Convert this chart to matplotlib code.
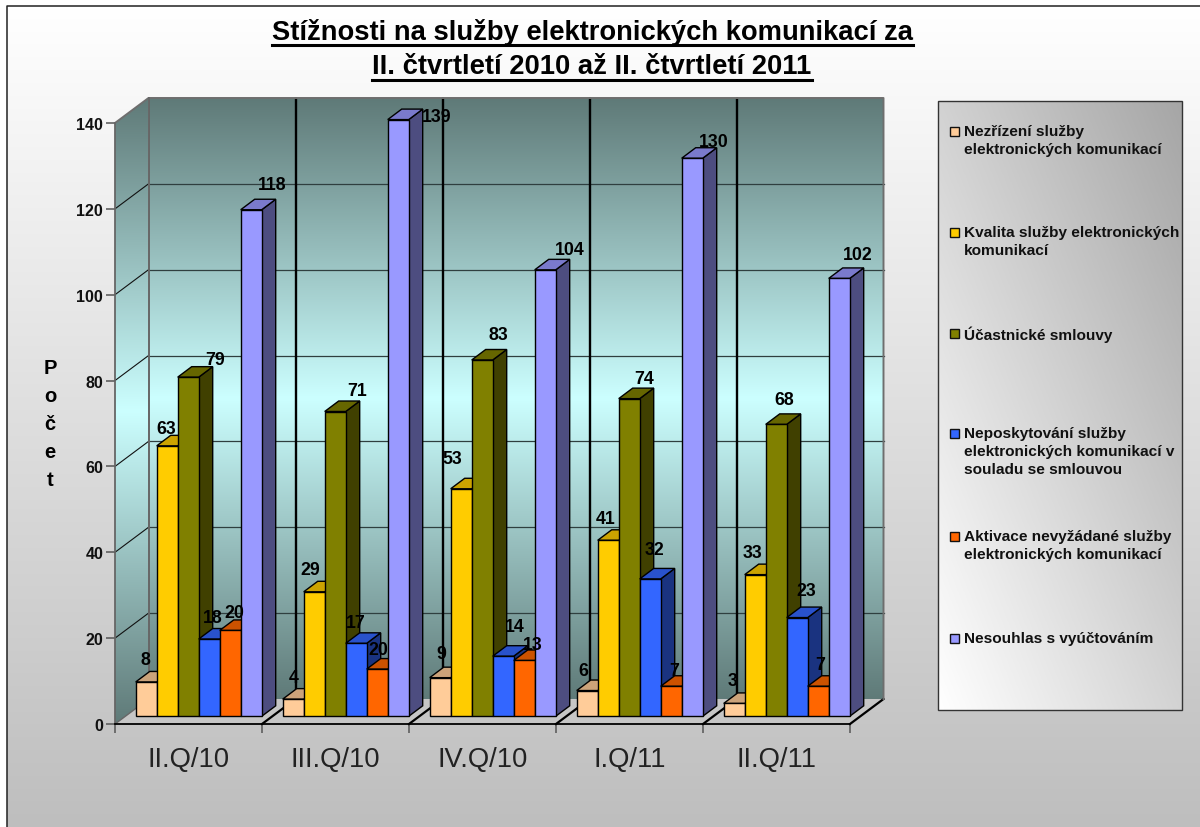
import numpy as np
import matplotlib
matplotlib.use('Agg')
import matplotlib.pyplot as plt
from matplotlib.colors import LinearSegmentedColormap
from matplotlib.patches import Polygon, Rectangle
from matplotlib.lines import Line2D

plt.rcParams['font.family'] = ['Liberation Sans', 'DejaVu Sans']

quarters = ['II.Q/10', 'III.Q/10', 'IV.Q/10', 'I.Q/11', 'II.Q/11']
series_names = ['Nezřízení služby\nelektronických komunikací',
                'Kvalita služby elektronických\nkomunikací',
                'Účastnické smlouvy',
                'Neposkytování služby\nelektronických komunikací v\nsouladu se smlouvou',
                'Aktivace nevyžádané služby\nelektronických komunikací',
                'Nesouhlas s vyúčtováním']

nezrizeni = [8, 4, 9, 6, 3]
kvalita = [63, 29, 53, 41, 33]
smlouvy = [79, 71, 83, 74, 68]
neposkytovani = [18, 17, 14, 32, 23]
aktivace = [20, 11, 13, 7, 7]
nesouhlas = [118, 139, 104, 130, 102]

# the orange bar in III.Q/10 is drawn about 11 high but labelled 20
aktivace_labels = [20, 20, 13, 7, 7]

series = [nezrizeni, kvalita, smlouvy, neposkytovani, aktivace, nesouhlas]
labels = [nezrizeni, kvalita, smlouvy, neposkytovani, aktivace_labels, nesouhlas]
colors = ['#ffcc99', '#ffcc00', '#808000', '#3366ff', '#ff6600', '#9999ff']
y_ticks = [0, 20, 40, 60, 80, 100, 120, 140]

# hand placed data labels in the original, pixels from top centre of the bar front
label_shift = [
    [(-1, 22), (-1, 17), (27, 18), (4, 22), (4, 18), (21, 25)],
    [(0, 22), (-4, 22), (22, 21), (0, 21), (1, 20), (38, 3)],
    [(1, 24), (-9, 30), (16, 25), (12, 30), (9, 16), (25, 20)],
    [(-4, 20), (-3, 22), (15, 20), (4, 29), (3, 16), (22, 17)],
    [(-2, 23), (-3, 22), (8, 25), (9, 27), (2, 22), (19, 24)],
]

W, H = 1200, 828
fig = plt.figure(figsize=(W / 100, H / 100), dpi=100)

# background with gradient, border only left and top
bg = fig.add_axes([0, 0, 1, 1], zorder=0)
bg.set_xlim(0, W)
bg.set_ylim(H, 0)
bg.axis('off')
grey = LinearSegmentedColormap.from_list('grey', ['#ffffff', '#bebebe'])
bg.imshow(np.linspace(0, 1, 256).reshape(-1, 1), cmap=grey, extent=[7, W, H, 7], aspect='auto')
bg.plot([7, 7, W], [H, 7, 7], color='#222222', lw=1.1)

# legend box, white in lower left to grey in upper right
xx, yy = np.meshgrid(np.linspace(0, 1, 200), np.linspace(0, 1, 200))
legend_cmap = LinearSegmentedColormap.from_list('lg', ['#ffffff', '#a6a6a6'])
bg.imshow((xx + (1 - yy)) / 2, cmap=legend_cmap, extent=[938, 1182, 711, 102], aspect='auto')
bg.add_patch(Rectangle((938, 102), 244, 609, fill=False, ec='#333333', lw=1.0))
bg.set_xlim(0, W)
bg.set_ylim(H, 0)

legend_y = [132, 233, 334, 434, 537, 639]
for name, c, ly in zip(series_names, colors, legend_y):
    bg.add_patch(Rectangle((950, ly - 4.5), 9, 9, fc=c, ec='#111111', lw=1.0))
    bg.text(964, ly - 7, name, fontsize=11.1, fontweight='bold', va='top', ha='left',
            linespacing=1.35, color='#111111')

# main axes: this is the front plane of the 3D box
ax = fig.add_axes([115 / W, 1 - 725 / H, 735 / W, 601 / H], zorder=1)
ax.patch.set_visible(False)
ax.set_xlim(0, 5)
ax.set_ylim(0, 140)

px_x = 147.0
px_y = 601 / 140
depth_x = 33.5 / px_x
depth_y = 25 / px_y
top = 140 + depth_y

wall = LinearSegmentedColormap.from_list('wall', ['#5f7a78', '#ccffff', '#5f7a78'])
grad = np.linspace(0, 1, 256).reshape(-1, 1)

back = ax.imshow(grad, cmap=wall, extent=[depth_x, 5 + depth_x, depth_y, top],
                 aspect='auto', clip_on=False, zorder=1)
side = ax.imshow(grad, cmap=wall, extent=[0, depth_x, 0, top],
                 aspect='auto', zorder=1)
side_poly = Polygon([(0, 0), (depth_x, depth_y), (depth_x, top), (0, 140)],
                    closed=True, transform=ax.transData, fill=False, ec='none')
ax.add_patch(side_poly)
side_poly.set_clip_on(False)
side.set_clip_on(True)
side.set_clip_box(fig.bbox)
side.set_clip_path(side_poly)
ax.set_xlim(0, 5)
ax.set_ylim(0, 140)

# floor
ax.add_patch(Polygon([(0, 0), (5, 0), (5 + depth_x, depth_y), (depth_x, depth_y)],
                     fc='#c6c6c6', ec='none', clip_on=False, zorder=1.5))

# gridlines, back wall and side wall
for v in y_ticks[1:-1]:
    ax.plot([depth_x, 5 + depth_x], [v + depth_y, v + depth_y], color='#2f3f3f', lw=0.9,
            clip_on=False, zorder=2)
    ax.plot([0, depth_x], [v, v + depth_y], color='#111111', lw=0.8, clip_on=False, zorder=2)

for k in range(1, 5):
    ax.plot([k + depth_x, k + depth_x], [depth_y, top + 0.3], color='black', lw=1.7,
            clip_on=False, zorder=2, solid_capstyle='butt')
for k in range(1, 6):
    ax.plot([k, k + depth_x], [0, depth_y], color='black', lw=1.6, clip_on=False, zorder=2)
ax.plot([0, depth_x], [0, depth_y], color='#666666', lw=1.0, clip_on=False, zorder=2)

# box edges
ax.plot([0, depth_x, 5 + depth_x, 5 + depth_x], [140, top, top, depth_y], color='#6e6e6e',
        lw=1.4, clip_on=False, zorder=2)
ax.plot([depth_x, depth_x], [depth_y, top], color='#666666', lw=1.4, clip_on=False, zorder=2)

# bars
bar_w = 21 / px_x
bar_start = 20.7 / px_x
bar_base = 7.7 / px_y
bar_dx = 14 / px_x
bar_dy = 10.5 / px_y

def shade(c, f):
    return tuple(np.array(matplotlib.colors.to_rgb(c)) * f)

for g in range(len(quarters)):
    for s in range(len(series)):
        x0 = g + bar_start + s * bar_w
        x1 = x0 + bar_w
        y0 = bar_base
        y1 = bar_base + series[s][g]
        z = 3 + g + s * 0.1
        ax.add_patch(Polygon([(x1, y0), (x1 + bar_dx, y0 + bar_dy), (x1 + bar_dx, y1 + bar_dy), (x1, y1)],
                             fc=shade(colors[s], 0.5), ec='black', lw=1.0, clip_on=False, zorder=z))
        ax.add_patch(Polygon([(x0, y1), (x1, y1), (x1 + bar_dx, y1 + bar_dy), (x0 + bar_dx, y1 + bar_dy)],
                             fc=shade(colors[s], 0.8), ec='black', lw=1.0, clip_on=False, zorder=z))
        ax.add_patch(Rectangle((x0, y0), bar_w, series[s][g], fc=colors[s], ec='black', lw=1.0,
                               clip_on=False, zorder=z))

for g in range(len(quarters)):
    for s in range(len(series)):
        x0 = g + bar_start + s * bar_w
        ax.annotate(str(labels[s][g]), (x0 + bar_w / 2, bar_base + series[s][g]),
                    xytext=label_shift[g][s], textcoords='offset pixels', ha='center',
                    va='center', fontsize=12.8, fontweight='bold', color='black',
                    annotation_clip=False, zorder=20)

# axes
for sp in ['top', 'right']:
    ax.spines[sp].set_visible(False)
ax.spines['left'].set_color('#666666')
ax.spines['left'].set_linewidth(1.3)
ax.spines['bottom'].set_color('black')
ax.spines['bottom'].set_linewidth(1.3)
ax.set_yticks(y_ticks)
ax.set_yticklabels([str(v) for v in y_ticks], fontsize=11.5, fontweight='bold', color='#111111')
ax.tick_params(axis='y', length=6.5, width=1.1, color='#555555', pad=2)
ax.set_xticks(range(6))
ax.set_xticklabels([])
ax.tick_params(axis='x', which='major', length=6.5, width=1.1, color='#555555')
ax.set_xticks(np.arange(0.5, 5), minor=True)
ax.set_xticklabels(quarters, minor=True, fontsize=19.7, color='#222222')
ax.tick_params(axis='x', which='minor', length=0, pad=15.5)

bg.text(50, 425, 'P\no\nč\ne\nt', fontsize=14.5, fontweight='bold', ha='center', va='center',
        linespacing=1.6, color='black')

# title with underline, matplotlib has no underline so draw it under the measured text
title_lines = ['Stížnosti na služby elektronických komunikací za',
               'II. čtvrtletí 2010 až II. čtvrtletí 2011']
title_y = [32, 67]
fig.canvas.draw()
rend = fig.canvas.get_renderer()
for line, ty in zip(title_lines, title_y):
    t = bg.text(592, ty, line, fontsize=19.7, fontweight='bold', ha='center', va='center', color='black')
    ext = t.get_window_extent(rend)
    bg.add_line(Line2D([ext.x0, ext.x1], [ty + 14, ty + 14], color='black', lw=2.2))

fig.savefig('out.png', dpi=100)
